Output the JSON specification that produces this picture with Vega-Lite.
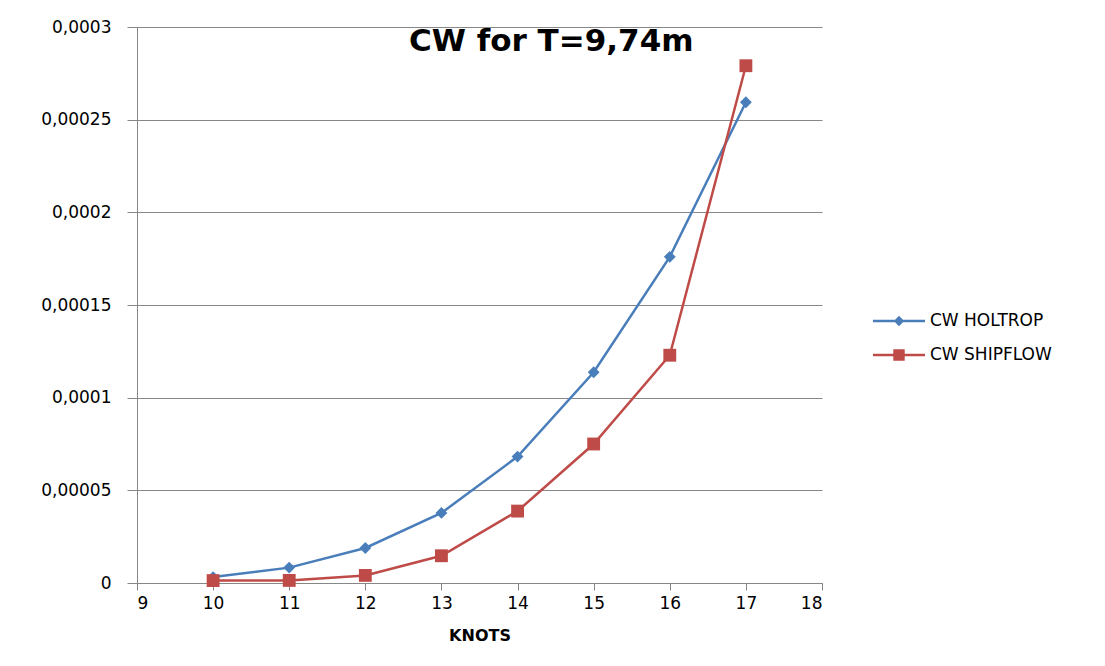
{
  "$schema": "https://vega.github.io/schema/vega-lite/v6.json",
  "width": 685,
  "height": 556,
  "autosize": "none",
  "padding": {"left": 137, "top": 27, "right": 283, "bottom": 83},
  "background": "white",
  "title": {
    "text": "CW for T=9,74m",
    "anchor": "start",
    "frame": "group",
    "dx": 272,
    "dy": 64,
    "offset": 0,
    "baseline": "alphabetic",
    "font": "DejaVu Sans",
    "fontSize": 31,
    "fontWeight": "bold",
    "color": "#000000"
  },
  "data": {
    "values": [
      {"knots": 10, "cw": 0.0000032, "series": "CW HOLTROP"},
      {"knots": 11, "cw": 0.0000083, "series": "CW HOLTROP"},
      {"knots": 12, "cw": 0.0000189, "series": "CW HOLTROP"},
      {"knots": 13, "cw": 0.0000378, "series": "CW HOLTROP"},
      {"knots": 14, "cw": 0.0000682, "series": "CW HOLTROP"},
      {"knots": 15, "cw": 0.0001137, "series": "CW HOLTROP"},
      {"knots": 16, "cw": 0.000176, "series": "CW HOLTROP"},
      {"knots": 17, "cw": 0.0002594, "series": "CW HOLTROP"},
      {"knots": 10, "cw": 0.0000013, "series": "CW SHIPFLOW"},
      {"knots": 11, "cw": 0.0000014, "series": "CW SHIPFLOW"},
      {"knots": 12, "cw": 0.0000041, "series": "CW SHIPFLOW"},
      {"knots": 13, "cw": 0.0000147, "series": "CW SHIPFLOW"},
      {"knots": 14, "cw": 0.0000388, "series": "CW SHIPFLOW"},
      {"knots": 15, "cw": 0.000075, "series": "CW SHIPFLOW"},
      {"knots": 16, "cw": 0.0001229, "series": "CW SHIPFLOW"},
      {"knots": 17, "cw": 0.0002791, "series": "CW SHIPFLOW"}
    ]
  },
  "encoding": {
    "x": {
      "field": "knots",
      "type": "quantitative",
      "scale": {"domain": [9, 18], "nice": false, "zero": false},
      "axis": {
        "title": "KNOTS",
        "values": [9, 10, 11, 12, 13, 14, 15, 16, 17, 18],
        "grid": false,
        "domainColor": "#868686",
        "tickColor": "#868686",
        "tickSize": 7,
        "labelPadding": 5,
        "labelFont": "DejaVu Sans",
        "labelFontSize": 17,
        "labelColor": "#000000",
        "titleFont": "DejaVu Sans",
        "titleFontSize": 16,
        "titleFontWeight": "bold",
        "titleColor": "#000000",
        "titlePadding": 16
      }
    },
    "y": {
      "field": "cw",
      "type": "quantitative",
      "scale": {"domain": [0, 0.0003], "nice": false},
      "axis": {
        "title": null,
        "values": [0, 0.00005, 0.0001, 0.00015, 0.0002, 0.00025, 0.0003],
        "labelExpr": "replace(format(datum.value, '.5~f'), '.', ',')",
        "grid": true,
        "gridColor": "#878787",
        "gridWidth": 1,
        "domainColor": "#868686",
        "tickColor": "#868686",
        "tickSize": 10,
        "labelPadding": 16,
        "labelFont": "DejaVu Sans",
        "labelFontSize": 17,
        "labelColor": "#000000"
      }
    }
  },
  "layer": [
    {
      "mark": {"type": "line", "strokeWidth": 2.5},
      "encoding": {
        "color": {
          "field": "series",
          "type": "nominal",
          "scale": {"domain": ["CW HOLTROP", "CW SHIPFLOW"], "range": ["#4A7EBB", "#BE4B48"]},
          "legend": {
            "title": null,
            "orient": "none",
            "legendX": 736,
            "legendY": 268,
            "symbolSize": 2704,
            "symbolType": "M-1,-0.045H1V0.045H-1Z M0,-0.2L0.2,0L0,0.2L-0.2,0Z",
            "rowPadding": -19,
            "labelOffset": 5,
            "labelFont": "DejaVu Sans",
            "labelFontSize": 17,
            "labelColor": "#000000",
            "encode": {
              "symbols": {
                "update": {
                  "shape": {"signal": "datum.value == 'CW HOLTROP' ? 'M-1,-0.045H1V0.045H-1Z M0,-0.2L0.2,0L0,0.2L-0.2,0Z' : 'M-1,-0.045H1V0.045H-1Z M-0.22,-0.22H0.22V0.22H-0.22Z'"},
                  "fill": {"signal": "datum.value == 'CW HOLTROP' ? '#4A7EBB' : '#BE4B48'"},
                  "fillOpacity": {"value": 1},
                  "strokeWidth": {"value": 0}
                }
              }
            }
          }
        }
      }
    },
    {
      "mark": {"type": "point", "filled": true, "opacity": 1},
      "encoding": {
        "color": {
          "field": "series",
          "type": "nominal",
          "scale": {"domain": ["CW HOLTROP", "CW SHIPFLOW"], "range": ["#4A7EBB", "#BE4B48"]},
          "legend": null
        },
        "shape": {
          "field": "series",
          "type": "nominal",
          "scale": {"domain": ["CW HOLTROP", "CW SHIPFLOW"], "range": ["diamond", "square"]},
          "legend": null
        },
        "size": {
          "field": "series",
          "type": "nominal",
          "scale": {"domain": ["CW HOLTROP", "CW SHIPFLOW"], "range": [140, 165]},
          "legend": null
        }
      }
    }
  ],
  "resolve": {"scale": {"color": "independent"}, "legend": {"color": "independent"}},
  "config": {"view": {"stroke": null}}
}
